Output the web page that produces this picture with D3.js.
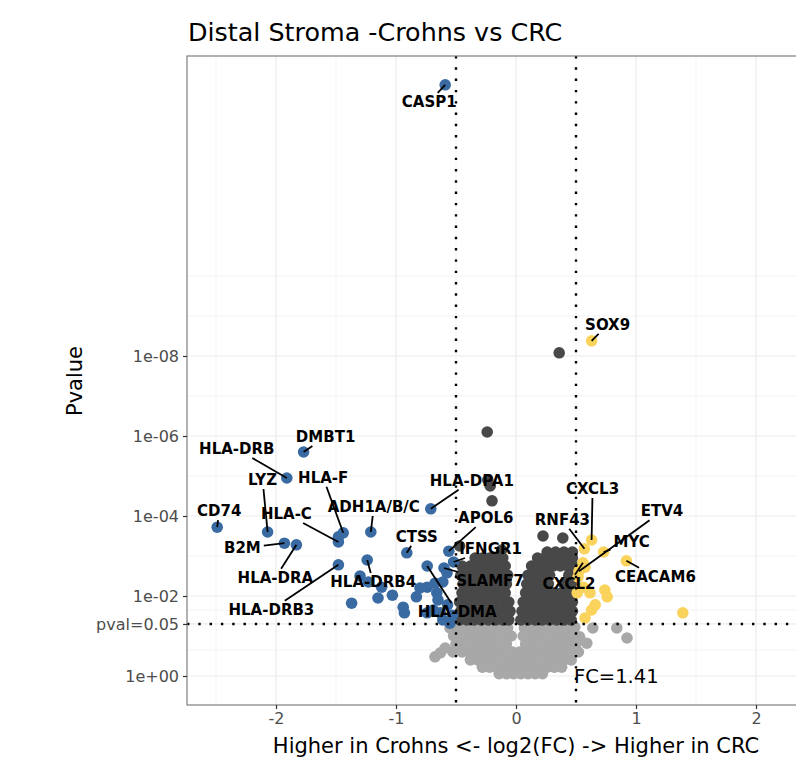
<!DOCTYPE html>
<html>
<head>
<meta charset="utf-8">
<script src="https://cdn.jsdelivr.net/npm/d3@7"></script>
<style>
  body { margin: 0; background: #fff; }
  svg { display: block; font-family: "DejaVu Sans", sans-serif; }
</style>
</head>
<body>
<div id="chart"></div>
<script>
// labelled genes: log2 fold change and -log10(p)
const geneNames = ["CASP1", "SOX9", "DMBT1", "HLA-DRB", "LYZ", "CD74", "HLA-F", "HLA-C",
  "ADH1A/B/C", "HLA-DPA1", "B2M", "HLA-DRA", "CTSS", "HLA-DRB3", "HLA-DRB4", "APOL6",
  "IFNGR1", "SLAMF7", "HLA-DMA", "CXCL3", "RNF43", "ETV4", "CXCL2", "MYC", "CEACAM6"];
const geneFC = [-0.59, 0.63, -1.77, -1.91, -2.07, -2.49, -1.44, -1.48,
  -1.21, -0.71, -1.93, -1.83, -0.91, -1.48, -1.24, -0.56,
  -0.52, -0.6, -0.74, 0.63, 0.57, 0.525, 0.558, 0.73, 0.92];
const geneNLP = [14.78, 8.38, 5.6, 4.95, 3.6, 3.72, 3.58, 3.35,
  3.6, 4.18, 3.32, 3.28, 3.08, 2.78, 2.9, 3.12,
  2.85, 2.7, 2.75, 3.4, 3.18, 2.62, 2.83, 3.1, 2.88];

// other genes as [log2FC, -log10(p)]
const otherBlue = [[-1.30, 2.5], [-1.23, 2.35], [-1.12, 2.22], [-1.03, 2.02], [-1.15, 1.95],
  [-1.37, 1.82], [-0.94, 1.72], [-0.93, 1.58], [-0.83, 1.98], [-0.8, 2.2], [-0.74, 2.22],
  [-0.66, 2.08], [-0.61, 2.35], [-0.65, 1.9], [-0.69, 1.65], [-0.74, 1.58], [-0.61, 1.4],
  [-0.575, 2.58], [-1.48, 3.48], [-0.63, 1.58], [-0.55, 1.32], [-0.675, 2.32],
  [-0.57, 1.78], [-0.53, 1.52]];
const otherYellow = [[0.575, 2.72], [0.517, 2.48], [0.51, 2.08], [0.617, 2.08], [0.74, 2.15],
  [0.76, 1.98], [0.66, 1.78], [0.63, 1.65], [0.575, 1.45], [1.39, 1.58], [0.56, 2.22]];
const otherDark = [[0.36, 8.08], [-0.24, 6.1], [-0.235, 4.9], [-0.215, 4.75], [-0.2, 4.38],
  [0.225, 3.5], [0.39, 3.45], [-0.47, 3.25], [-0.12, 3.15],
  // left cloud
  [-0.47, 1.4], [-0.41, 1.4], [-0.35, 1.4], [-0.29, 1.4], [-0.23, 1.4], [-0.17, 1.4], [-0.11, 1.4], [-0.06, 1.4],
  [-0.46, 1.62], [-0.40, 1.62], [-0.34, 1.62], [-0.28, 1.62], [-0.22, 1.62], [-0.16, 1.62], [-0.10, 1.62], [-0.05, 1.62],
  [-0.47, 1.85], [-0.41, 1.85], [-0.35, 1.85], [-0.29, 1.85], [-0.23, 1.85], [-0.17, 1.85], [-0.11, 1.85], [-0.06, 1.85],
  [-0.45, 2.08], [-0.39, 2.08], [-0.33, 2.08], [-0.27, 2.08], [-0.21, 2.08], [-0.15, 2.08], [-0.09, 2.08],
  [-0.44, 2.3], [-0.38, 2.3], [-0.32, 2.3], [-0.26, 2.3], [-0.20, 2.3], [-0.14, 2.3], [-0.08, 2.3],
  [-0.46, 2.52], [-0.40, 2.52], [-0.34, 2.52], [-0.28, 2.52], [-0.22, 2.52], [-0.16, 2.52], [-0.10, 2.52], [-0.07, 2.52],
  [-0.45, 2.75], [-0.38, 2.75], [-0.32, 2.75], [-0.26, 2.75], [-0.20, 2.75], [-0.14, 2.75], [-0.09, 2.75],
  [-0.34, 2.95], [-0.28, 2.95], [-0.22, 2.95], [-0.16, 2.95], [-0.11, 2.95],
  // right cloud
  [0.04, 1.4], [0.10, 1.4], [0.16, 1.4], [0.22, 1.4], [0.28, 1.4], [0.34, 1.4], [0.40, 1.4], [0.46, 1.4],
  [0.05, 1.62], [0.11, 1.62], [0.17, 1.62], [0.23, 1.62], [0.29, 1.62], [0.35, 1.62], [0.41, 1.62], [0.47, 1.62],
  [0.06, 1.85], [0.12, 1.85], [0.18, 1.85], [0.24, 1.85], [0.30, 1.85], [0.36, 1.85], [0.42, 1.85], [0.47, 1.85],
  [0.08, 2.08], [0.14, 2.08], [0.20, 2.08], [0.26, 2.08], [0.32, 2.08], [0.38, 2.08], [0.44, 2.08],
  [0.09, 2.3], [0.15, 2.3], [0.21, 2.3], [0.27, 2.3], [0.40, 2.3], [0.46, 2.3],
  [0.10, 2.52], [0.16, 2.52], [0.22, 2.52], [0.28, 2.52], [0.44, 2.52],
  [0.13, 2.75], [0.19, 2.75], [0.25, 2.75], [0.31, 2.75], [0.37, 2.75], [0.43, 2.75], [0.48, 2.75],
  [0.18, 2.95], [0.24, 2.95], [0.30, 2.95], [0.36, 2.95], [0.42, 2.95], [0.47, 2.95],
  [0.26, 3.1], [0.33, 3.1], [0.40, 3.1], [0.47, 3.1]];
const otherLight = [
  [-0.55, 1.2], [-0.49, 1.2], [-0.43, 1.2], [-0.37, 1.2], [-0.31, 1.2], [-0.25, 1.2], [-0.19, 1.2], [-0.13, 1.2], [-0.07, 1.2],
  [0.07, 1.2], [0.13, 1.2], [0.19, 1.2], [0.25, 1.2], [0.31, 1.2], [0.37, 1.2], [0.43, 1.2], [0.49, 1.22], [0.64, 1.2], [0.84, 1.2],
  [-0.52, 1.0], [-0.46, 1.0], [-0.40, 1.0], [-0.34, 1.0], [-0.28, 1.0], [-0.22, 1.0], [-0.16, 1.0], [-0.10, 1.0], [-0.04, 1.0],
  [0.06, 1.0], [0.12, 1.0], [0.18, 1.0], [0.24, 1.0], [0.30, 1.0], [0.36, 1.0], [0.42, 1.0], [0.48, 1.0], [0.53, 0.98], [0.925, 0.95],
  [-0.50, 0.8], [-0.44, 0.8], [-0.38, 0.8], [-0.32, 0.8], [-0.26, 0.8], [-0.20, 0.8], [-0.14, 0.8], [-0.08, 0.8],
  [0.08, 0.8], [0.14, 0.8], [0.20, 0.8], [0.26, 0.8], [0.32, 0.8], [0.38, 0.8], [0.44, 0.8], [0.50, 0.8], [0.59, 0.82],
  [-0.45, 0.6], [-0.39, 0.6], [-0.33, 0.6], [-0.27, 0.6], [-0.21, 0.6], [-0.15, 0.6], [-0.09, 0.6], [-0.03, 0.6],
  [0.03, 0.6], [0.09, 0.6], [0.15, 0.6], [0.21, 0.6], [0.27, 0.6], [0.33, 0.6], [0.39, 0.6], [0.45, 0.6], [0.52, 0.6],
  [-0.38, 0.4], [-0.32, 0.4], [-0.26, 0.4], [-0.20, 0.4], [-0.14, 0.4], [-0.08, 0.4], [-0.02, 0.4],
  [0.04, 0.4], [0.10, 0.4], [0.16, 0.4], [0.22, 0.4], [0.28, 0.4], [0.34, 0.4], [0.40, 0.4], [0.46, 0.4],
  [-0.28, 0.22], [-0.22, 0.22], [-0.16, 0.22], [-0.10, 0.22], [-0.04, 0.22], [0.02, 0.22], [0.08, 0.22],
  [0.14, 0.22], [0.20, 0.22], [0.26, 0.22], [0.32, 0.22], [0.38, 0.22],
  [-0.14, 0.06], [-0.08, 0.06], [-0.02, 0.06], [0.04, 0.06], [0.10, 0.06], [0.16, 0.06], [0.22, 0.06],
  [-0.675, 0.48], [-0.63, 0.58], [-0.525, 0.6], [-0.59, 0.7]];

const yTickP = [1, 0.01, 1e-4, 1e-6, 1e-8, 0.05];
const yTickLabels = ["1e+00", "1e-02", "1e-04", "1e-06", "1e-08", "pval=0.05"];
const yMinorP = [Math.pow(10, -0.65), Math.pow(10, -1.65), 1e-3, 1e-5, 1e-7, 1e-9, 1e-10];
const xTicks = [-2, -1, 0, 1, 2];
const xMinor = [-2.5, -1.5, -0.5, 0.5, 1.5, 2.5];
const pCut = 0.05, fcCut = 0.5;

// label placement (pixel offsets from the point, like ggrepel put them)
const labelOffsets = [[-16, 17], [16, -16], [22, -15], [-50, -29], [-5, -52], [2, -16], [-20, -55], [-52, -28],
  [3, -25], [41, -28], [-42, 5], [-21, 33], [10, -16], [-67, 45], [6, 22], [37, -33],
  [37, -13], [46, 13], [30, 46], [1, -51], [-22, -29], [83, -60], [-14, 21], [28, -10], [29, 16]];

const width = 796, height = 767;
const toP = v => Math.pow(10, -v);

const x = d3.scaleLinear().domain([-2.7417, 2.7417]).range([187, 845]);
const y = d3.scaleLog().domain([Math.pow(10, 0.725), Math.pow(10, -15.5)]).range([705, 56]);

const svg = d3.select("#chart").append("svg")
  .attr("width", width)
  .attr("height", height);

// grid
const grid = svg.append("g");
grid.selectAll(".ymin").data(yMinorP).enter().append("line")
  .attr("x1", 187).attr("x2", 845)
  .attr("y1", d => y(d)).attr("y2", d => y(d))
  .attr("stroke", "#f0f0f0").attr("stroke-width", 0.8);
grid.selectAll(".xmin").data(xMinor).enter().append("line")
  .attr("x1", d => x(d)).attr("x2", d => x(d))
  .attr("y1", 56).attr("y2", 705)
  .attr("stroke", "#f0f0f0").attr("stroke-width", 0.8);
grid.selectAll(".ymaj").data(yTickP).enter().append("line")
  .attr("x1", 187).attr("x2", 845)
  .attr("y1", d => y(d)).attr("y2", d => y(d))
  .attr("stroke", "#ebebeb").attr("stroke-width", 1.2);
grid.selectAll(".xmaj").data(xTicks).enter().append("line")
  .attr("x1", d => x(d)).attr("x2", d => x(d))
  .attr("y1", 56).attr("y2", 705)
  .attr("stroke", "#ebebeb").attr("stroke-width", 1.2);

function colourOf(fc, p) {
  if (p < pCut && fc < -fcCut) return "#3a6aa2";
  if (p < pCut && fc > fcCut) return "#f9d35b";
  if (p < pCut) return "#484848";
  return "#a8a8a8";
}

const pts = [];
otherLight.forEach(d => pts.push({ fc: d[0], p: toP(d[1]) }));
otherDark.forEach(d => pts.push({ fc: d[0], p: toP(d[1]) }));
otherBlue.forEach(d => pts.push({ fc: d[0], p: toP(d[1]) }));
otherYellow.forEach(d => pts.push({ fc: d[0], p: toP(d[1]) }));
const genes = geneNames.map((g, i) => ({ name: g, fc: geneFC[i], p: toP(geneNLP[i]), off: labelOffsets[i] }));
genes.forEach(d => pts.push(d));

svg.append("g").selectAll("circle")
  .data(pts)
  .enter()
  .append("circle")
  .attr("cx", d => x(d.fc))
  .attr("cy", d => y(d.p))
  .attr("r", 5.8)
  .attr("fill", d => colourOf(d.fc, d.p));

// threshold lines
const dots = { stroke: "#000", "stroke-width": 2.4, "stroke-dasharray": "2.4,8.9" };
[-fcCut, fcCut].forEach(v => {
  const l = svg.append("line")
    .attr("x1", x(v)).attr("x2", x(v))
    .attr("y1", 56).attr("y2", 705);
  Object.entries(dots).forEach(([k, val]) => l.attr(k, val));
});
const hl = svg.append("line")
  .attr("x1", 187).attr("x2", 845)
  .attr("y1", y(pCut)).attr("y2", y(pCut));
Object.entries(dots).forEach(([k, val]) => hl.attr(k, val));

svg.append("text")
  .attr("x", x(fcCut) - 2)
  .attr("y", y(1))
  .attr("dominant-baseline", "central")
  .attr("font-size", 19.5)
  .attr("fill", "#000")
  .text("FC=1.41");

// gene labels with segments pointing from the point towards the label centre
const lab = svg.append("g");
genes.forEach(d => {
  const px = x(d.fc), py = y(d.p);
  const cx = px + d.off[0], cy = py + d.off[1];
  const t = lab.append("text")
    .attr("x", cx)
    .attr("y", cy)
    .attr("text-anchor", "middle")
    .attr("dominant-baseline", "central")
    .attr("font-size", 15)
    .attr("font-weight", "bold")
    .attr("fill", "#000")
    .text(d.name);
  const b = t.node().getBBox();
  const hw = b.width / 2 + 3, hh = b.height / 2;
  const dx = px - cx, dy = py - cy;
  const s = Math.min(dx ? hw / Math.abs(dx) : Infinity, dy ? hh / Math.abs(dy) : Infinity);
  if (s >= 1) return;
  const ex = cx + s * dx, ey = cy + s * dy;
  const len = Math.hypot(px - ex, py - ey);
  if (len > 6) {
    lab.insert("line", "text")
      .attr("x1", ex).attr("y1", ey)
      .attr("x2", px).attr("y2", py)
      .attr("stroke", "#000")
      .attr("stroke-width", 1.8);
  }
});

// panel border
svg.append("rect")
  .attr("x", 187).attr("y", 56)
  .attr("width", 845 - 187).attr("height", 705 - 56)
  .attr("fill", "none")
  .attr("stroke", "#7f7f7f")
  .attr("stroke-width", 1.2);

// axes
const yAxis = svg.append("g")
  .attr("transform", "translate(187,0)")
  .call(d3.axisLeft(y).tickValues(yTickP).tickFormat((d, i) => yTickLabels[i]).tickSize(4).tickPadding(4));
const xAxis = svg.append("g")
  .attr("transform", "translate(0,705)")
  .call(d3.axisBottom(x).tickValues(xTicks).tickFormat(d3.format("d")).tickSize(4).tickPadding(4));
[xAxis, yAxis].forEach(a => {
  a.select(".domain").remove();
  a.selectAll(".tick line").attr("stroke", "#333").attr("stroke-width", 1.2);
  a.selectAll(".tick text").attr("fill", "#4d4d4d").attr("font-size", 16)
    .attr("font-family", "DejaVu Sans, sans-serif");
});
xAxis.selectAll(".tick text").text(d => d < 0 ? "-" + Math.abs(d) : d);

svg.append("text")
  .attr("x", 516).attr("y", 753)
  .attr("text-anchor", "middle")
  .attr("font-size", 21)
  .attr("fill", "#000")
  .text("Higher in Crohns <- log2(FC) -> Higher in CRC");

svg.append("text")
  .attr("transform", "translate(82,381) rotate(-90)")
  .attr("text-anchor", "middle")
  .attr("font-size", 21)
  .attr("fill", "#000")
  .text("Pvalue");

svg.append("text")
  .attr("x", 188).attr("y", 41)
  .attr("font-size", 25.4)
  .attr("fill", "#000")
  .text("Distal Stroma -Crohns vs CRC");
</script>
</body>
</html>
